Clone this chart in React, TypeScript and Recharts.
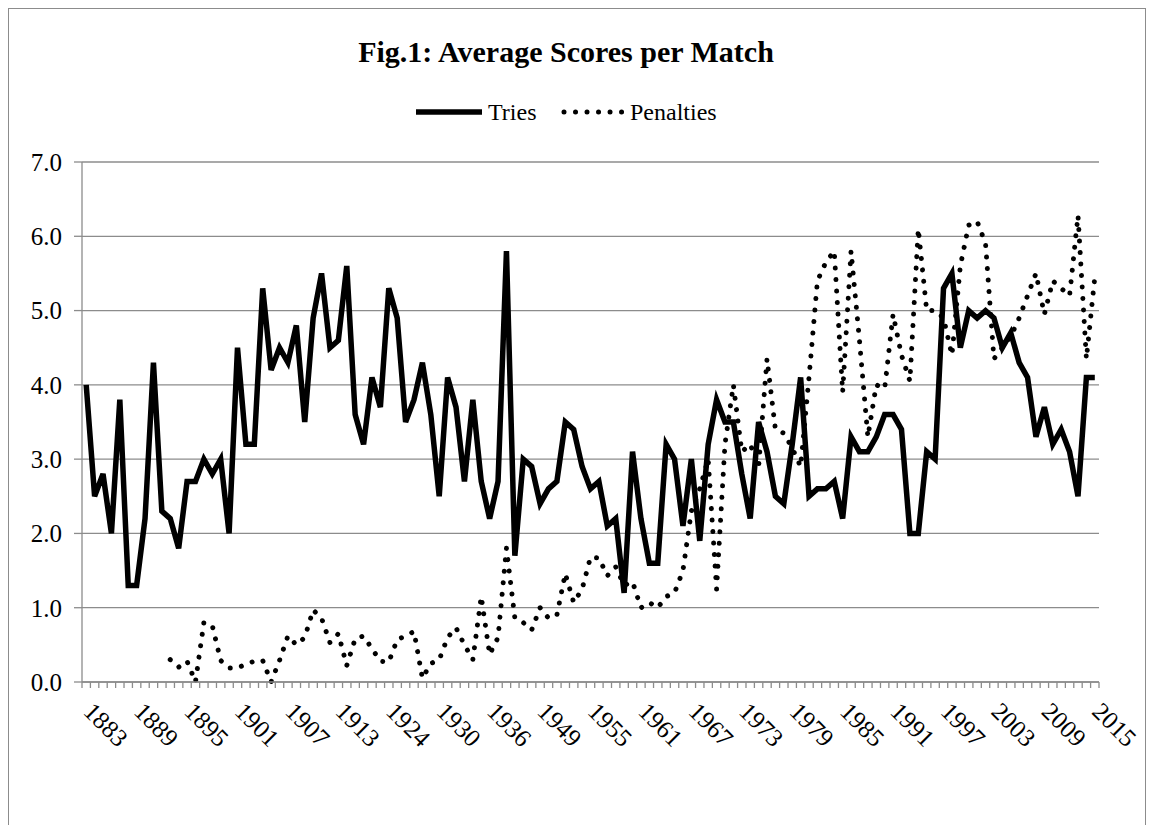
import React from 'react';
import { LineChart, Line, XAxis, YAxis, CartesianGrid } from 'recharts';

const years: string[] = [
  '1883','1884','1885','1886','1887','1888','1889','1890','1891','1892','1893','1894','1895','1896','1897','1898',
  '1899','1900','1901','1902','1903','1904','1905','1906','1907','1908','1909','1910','1911','1912','1913','1914',
  '1920','1921','1922','1923','1924','1925','1926','1927','1928','1929','1930','1931','1932','1933','1934','1935',
  '1936','1937','1938','1939',
  '1947','1948','1949','1950','1951','1952','1953','1954','1955','1956','1957','1958','1959','1960','1961','1962',
  '1963','1964','1965','1966','1967','1968','1969','1970','1971','1972','1973','1974','1975','1976','1977','1978',
  '1979','1980','1981','1982','1983','1984','1985','1986','1987','1988','1989','1990','1991','1992','1993','1994',
  '1995','1996','1997','1998','1999','2000','2001','2002','2003','2004','2005','2006','2007','2008','2009','2010',
  '2011','2012','2013','2014','2015',
];

const tries: number[] = [
  4.0, 2.5, 2.8, 2.0, 3.8, 1.3, 1.3, 2.2, 4.3, 2.3, 2.2, 1.8, 2.7, 2.7, 3.0, 2.8,
  3.0, 2.0, 4.5, 3.2, 3.2, 5.3, 4.2, 4.5, 4.3, 4.8, 3.5, 4.9, 5.5, 4.5, 4.6, 5.6,
  3.6, 3.2, 4.1, 3.7, 5.3, 4.9, 3.5, 3.8, 4.3, 3.6, 2.5, 4.1, 3.7, 2.7, 3.8, 2.7,
  2.2, 2.7, 5.8, 1.7,
  3.0, 2.9, 2.4, 2.6, 2.7, 3.5, 3.4, 2.9, 2.6, 2.7, 2.1, 2.2, 1.2, 3.1, 2.2, 1.6,
  1.6, 3.2, 3.0, 2.1, 3.0, 1.9, 3.2, 3.8, 3.5, 3.5, 2.8, 2.2, 3.5, 3.1, 2.5, 2.4,
  3.2, 4.1, 2.5, 2.6, 2.6, 2.7, 2.2, 3.3, 3.1, 3.1, 3.3, 3.6, 3.6, 3.4, 2.0, 2.0,
  3.1, 3.0, 5.3, 5.5, 4.5, 5.0, 4.9, 5.0, 4.9, 4.5, 4.7, 4.3, 4.1, 3.3, 3.7, 3.2,
  3.4, 3.1, 2.5, 4.1, 4.1,
];

const penalties: (number | null)[] = [
  null, null, null, null, null, null, null, null, null, null, 0.30, 0.20, 0.28, 0.00, 0.80, 0.76,
  0.29, 0.19, 0.19, 0.24, 0.28, 0.29, 0.00, 0.29, 0.62, 0.50, 0.60, 0.97, 0.86, 0.53, 0.65, 0.22,
  0.58, 0.62, 0.45, 0.28, 0.27, 0.57, 0.62, 0.68, 0.05, 0.25, 0.30, 0.60, 0.73, 0.50, 0.30, 1.15,
  0.37, 0.60, 1.80, 0.86,
  0.80, 0.70, 1.00, 0.86, 0.90, 1.46, 1.07, 1.25, 1.68, 1.67, 1.43, 1.55, 1.30, 1.35, 1.00, 1.07,
  1.00, 1.15, 1.20, 1.50, 2.30, 2.60, 3.00, 1.25, 3.20, 4.00, 3.10, 3.20, 2.90, 4.35, 3.40, 3.35,
  3.15, 2.90, 4.10, 5.40, 5.65, 5.80, 3.90, 5.80, 4.60, 3.30, 4.00, 3.95, 4.95, 4.40, 4.05, 6.10,
  5.00, 5.00, 4.90, 4.40, 5.60, 6.15, 6.20, 5.90, 4.35, 4.50, 4.65, 4.90, 5.20, 5.50, 4.95, 5.40,
  5.30, 5.20, 6.28, 4.35, 5.45,
];

const yTicks: number[] = [0, 1, 2, 3, 4, 5, 6, 7];
const titleText = 'Fig.1: Average Scores per Match';
const seriesNames = { tries: 'Tries', penalties: 'Penalties' };

const data = years.map((year, i) => ({ year, tries: tries[i], penalties: penalties[i] }));

const FONT = '"Liberation Serif", Tinos, "Times New Roman", "DejaVu Serif", serif';
const GRID = '#8c8c8c';
const CHART_W = 1136;
const CHART_H = 828;
const PLOT_LEFT = 73;
const PLOT_RIGHT = 1090;
const PLOT_TOP = 153;
const PLOT_BOTTOM = 673;
const X_AXIS_H = 60;
const BAND = (PLOT_RIGHT - PLOT_LEFT) / years.length;
const DOTS = '0.01 11.5';
const txt = { fontFamily: FONT };

const XTick = (props: any) => {
  const { x, index, payload } = props;
  const left = x - BAND / 2;
  const isLast = index === years.length - 1;
  return (
    <g>
      <line x1={left} x2={left} y1={PLOT_BOTTOM} y2={PLOT_BOTTOM + 6} stroke={GRID} strokeWidth={1.3} />
      {isLast && (
        <line x1={x + BAND / 2} x2={x + BAND / 2} y1={PLOT_BOTTOM} y2={PLOT_BOTTOM + 6} stroke={GRID} strokeWidth={1.3} />
      )}
      {index % 6 === 0 && (
        <text
          x={0}
          y={0}
          transform={`translate(${x - 4},${PLOT_BOTTOM + 31}) rotate(45)`}
          textAnchor="start"
          fontFamily={FONT}
          style={txt}
          fontSize={25}
          fill="#000"
        >
          {payload.value}
        </text>
      )}
    </g>
  );
};

export default function App() {
  return (
    <div
      style={{
        position: 'relative',
        width: 1138,
        height: 830,
        border: `1px solid ${GRID}`,
        boxSizing: 'border-box',
        background: '#fff',
        fontFamily: FONT,
      }}
    >
      <style>{'html,body{overflow:hidden;}'}</style>
      <LineChart
        width={CHART_W}
        height={CHART_H}
        data={data}
        margin={{ top: PLOT_TOP, right: CHART_W - PLOT_RIGHT, bottom: CHART_H - PLOT_BOTTOM - X_AXIS_H, left: 0 }}
      >
        <CartesianGrid vertical={false} stroke={GRID} strokeWidth={1.3} />
        <XAxis
          dataKey="year"
          scale="band"
          interval={0}
          height={X_AXIS_H}
          axisLine={{ stroke: GRID, strokeWidth: 1.3 }}
          tickLine={false}
          tick={<XTick />}
        />
        <YAxis
          width={PLOT_LEFT}
          domain={[0, 7]}
          ticks={yTicks}
          interval={0}
          tickFormatter={(v: number) => v.toFixed(1)}
          axisLine={{ stroke: GRID, strokeWidth: 1.3 }}
          tickLine={{ stroke: GRID, strokeWidth: 1.3 }}
          tickSize={8}
          tickMargin={12}
          tick={{ fontFamily: FONT, fontSize: 25, fill: '#000' }}
        />
        <Line
          type="linear"
          dataKey="penalties"
          stroke="#000"
          strokeWidth={5}
          strokeDasharray={DOTS}
          strokeLinecap="round"
          dot={false}
          activeDot={false}
          isAnimationActive={false}
          connectNulls={false}
        />
        <Line
          type="linear"
          dataKey="tries"
          stroke="#000"
          strokeWidth={5.5}
          strokeLinejoin="miter"
          dot={false}
          activeDot={false}
          isAnimationActive={false}
        />
      </LineChart>
      <svg
        width={CHART_W}
        height={140}
        style={{ position: 'absolute', left: 0, top: 0, pointerEvents: 'none' }}
      >
        <text x={557} y={53} textAnchor="middle" fontFamily={FONT} style={txt} fontSize={30} fontWeight="bold" fill="#000">
          {titleText}
        </text>
        <line x1={407} x2={473} y1={103} y2={103} stroke="#000" strokeWidth={5.5} />
        <text x={479} y={111} fontFamily={FONT} style={txt} fontSize={24} fill="#000">
          {seriesNames.tries}
        </text>
        <line x1={555} x2={615} y1={103} y2={103} stroke="#000" strokeWidth={5} strokeDasharray={DOTS} strokeLinecap="round" />
        <text x={621} y={111} fontFamily={FONT} style={txt} fontSize={24} fill="#000">
          {seriesNames.penalties}
        </text>
      </svg>
    </div>
  );
}
